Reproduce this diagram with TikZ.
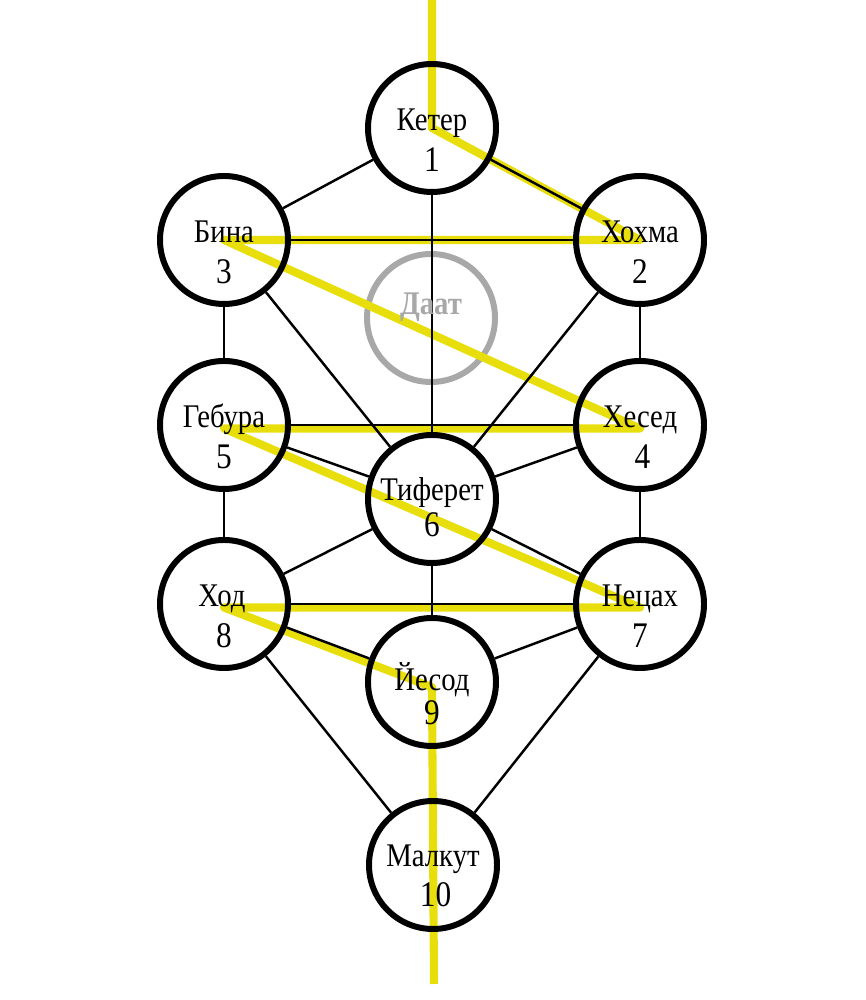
\documentclass[tikz,border=0pt]{standalone}
\usepackage{fontspec}
\setmainfont{Liberation Serif}[FakeStretch=0.87]
\usepackage{tikz}
\usetikzlibrary{backgrounds}
\usepackage{xcolor}
\definecolor{flashyellow}{RGB}{232,222,12}
\definecolor{daatgray}{RGB}{168,168,168}
\tikzset{
  sefira/.style={circle, draw=black, line width=3.4pt, minimum size=2.56cm, inner sep=0pt},
  ghost/.style={circle, draw=daatgray, line width=3.4pt, minimum size=2.56cm, inner sep=0pt},
  nametext/.style={anchor=base, inner sep=0pt, font=\fontsize{18.8}{22}\selectfont},
  numtext/.style={anchor=base, inner sep=0pt, font=\fontsize{20.5}{24}\selectfont},
  link/.style={line width=1.4pt},
  flash/.style={draw=flashyellow, line width=4.6pt, line join=round}
}

\begin{document}
\begin{tikzpicture}
\useasboundingbox (0,0) rectangle (17.32,20);
% ---- the ten circles ----
\node[sefira] (keter)    at (8.64,17.44) {};
\node[sefira] (chokhmah) at (12.80,15.20) {};
\node[sefira] (binah)    at (4.48,15.20) {};
\node[sefira] (chesed)   at (12.80,11.50) {};
\node[sefira] (gevurah)  at (4.48,11.50) {};
\node[sefira] (tiferet)  at (8.64,10.02) {};
\node[sefira] (netzach)  at (12.80,7.92) {};
\node[sefira] (hod)      at (4.48,7.92) {};
\node[sefira] (yesod)    at (8.64,6.36) {};
\node[sefira] (malkut)   at (8.66,2.70) {};
\coordinate (sky)    at (8.64,20);
\coordinate (ground) at (8.68,0.32);
% ---- daat, paths and lightning under the circles ----
\begin{scope}[on background layer]
\node[ghost] (daat) at (8.62,13.64) {};
\draw[flash] (sky) -- (keter.center) -- (chokhmah.center) -- (binah.center)
  -- ([yshift=-2pt]chesed.center) -- ([yshift=-2pt]gevurah.center)
  -- ([yshift=-2pt]netzach.center) -- ([yshift=-2pt]hod.center)
  -- ([yshift=-3pt]yesod.center) -- (ground);
\draw[link] (keter) -- (binah);
\draw[link] (keter) -- (chokhmah);
\draw[link] (keter) -- (tiferet);
\draw[link] (binah) -- (chokhmah);
\draw[link] (binah) -- (gevurah);
\draw[link] (chokhmah) -- (chesed);
\draw[link] (binah) -- (tiferet);
\draw[link] (chokhmah) -- (tiferet);
\draw[link] (gevurah) -- (chesed);
\draw[link] (gevurah) -- (tiferet);
\draw[link] (chesed) -- (tiferet);
\draw[link] (gevurah) -- (hod);
\draw[link] (chesed) -- (netzach);
\draw[link] (hod) -- (tiferet);
\draw[link] (netzach) -- (tiferet);
\draw[link] (tiferet) -- (yesod);
\draw[link] (hod) -- (netzach);
\draw[link] (hod) -- (yesod);
\draw[link] (netzach) -- (yesod);
\draw[link] (hod) -- (malkut);
\draw[link] (netzach) -- (malkut);
\end{scope}
% ---- names and numbers ----
\node[nametext] (keter-n)    at ([yshift=-0.06cm]keter.center) {Кетер};
\node[numtext]  (keter-k)    at ([yshift=-0.88cm]keter.center) {1};
\node[nametext] (chokhmah-n) at ([yshift=-0.06cm]chokhmah.center) {Хохма};
\node[numtext]  (chokhmah-k) at ([yshift=-0.88cm]chokhmah.center) {2};
\node[nametext] (binah-n)    at ([yshift=-0.06cm]binah.center) {Бина};
\node[numtext]  (binah-k)    at ([yshift=-0.88cm]binah.center) {3};
\node[nametext, text=daatgray, font=\fontsize{18.8}{22}\selectfont\bfseries] (daat-n) at ([yshift=0.06cm]daat.center) {Даат};
\node[nametext] (chesed-n)   at ([yshift=-0.06cm]chesed.center) {Хесед};
\node[numtext]  (chesed-k)   at ([xshift=0.05cm,yshift=-0.88cm]chesed.center) {4};
\node[nametext] (gevurah-n)  at ([yshift=-0.06cm]gevurah.center) {Гебура};
\node[numtext]  (gevurah-k)  at ([yshift=-0.88cm]gevurah.center) {5};
\node[nametext] (tiferet-n)  at ([yshift=-0.04cm]tiferet.center) {Тиферет};
\node[numtext]  (tiferet-k)  at ([yshift=-0.76cm]tiferet.center) {6};
\node[nametext] (netzach-n)  at ([yshift=-0.06cm]netzach.center) {Нецах};
\node[numtext]  (netzach-k)  at ([yshift=-0.88cm]netzach.center) {7};
\node[nametext] (hod-n)      at ([xshift=-0.04cm,yshift=-0.06cm]hod.center) {Ход};
\node[numtext]  (hod-k)      at ([yshift=-0.88cm]hod.center) {8};
\node[nametext] (yesod-n)    at ([yshift=-0.18cm]yesod.center) {Йесод};
\node[numtext]  (yesod-k)    at ([yshift=-0.86cm]yesod.center) {9};
\node[nametext] (malkut-n)   at ([yshift=-0.04cm]malkut.center) {Малкут};
\node[numtext]  (malkut-k)   at ([xshift=0.05cm,yshift=-0.84cm]malkut.center) {10};
\end{tikzpicture}
\end{document}
